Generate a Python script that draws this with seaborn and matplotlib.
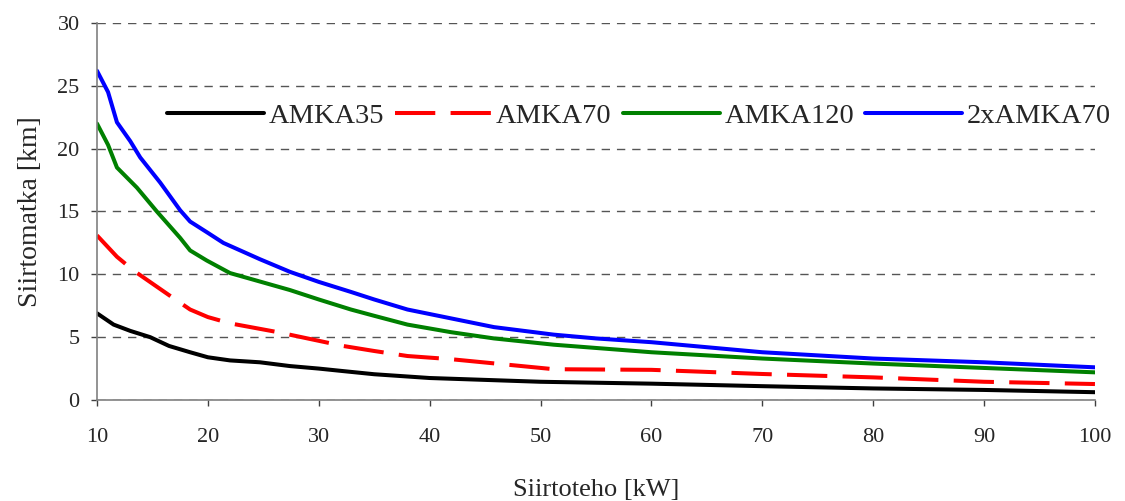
import pandas as pd
import matplotlib
matplotlib.use("Agg")
import matplotlib.pyplot as plt
import seaborn as sns

# Siirtoteho [kW] vs siirtomatka [km]
x_amka35 = [10, 11.5, 13, 14.8, 16.5, 18.4, 20, 22, 24.7, 27.4, 30, 32.2, 35, 40, 45, 50, 60, 70, 80, 90, 100]
y_amka35 = [6.9, 6.0, 5.5, 5.0, 4.3, 3.8, 3.4, 3.15, 3.0, 2.7, 2.5, 2.3, 2.05, 1.75, 1.6, 1.45, 1.3, 1.1, 0.92, 0.8, 0.62]

x_amka70 = [10, 11.8, 13.3, 16.9, 18.4, 20, 22, 26.3, 32.2, 35, 38, 41.9, 51.2, 60, 70, 80, 90, 100]
y_amka70 = [13.1, 11.4, 10.3, 8.1, 7.2, 6.6, 6.1, 5.4, 4.3, 3.9, 3.5, 3.25, 2.45, 2.4, 2.07, 1.8, 1.45, 1.27]

x_amka120 = [10, 11, 11.8, 13.6, 15.4, 17.5, 18.4, 19.9, 22, 27.4, 30, 32.9, 35, 38, 41.9, 45.8, 51.2, 60, 70, 80, 90, 100]
y_amka120 = [22.0, 20.3, 18.5, 16.9, 15.0, 12.9, 11.9, 11.1, 10.1, 8.75, 8.0, 7.2, 6.7, 6.0, 5.4, 4.9, 4.4, 3.8, 3.3, 2.9, 2.55, 2.2]

x_2xamka70 = [10, 11, 11.8, 13, 13.9, 15.7, 17.5, 18.4, 20, 21.4, 24.7, 27.4, 30, 32.9, 35, 38, 41.9, 45.8, 51.2, 55, 60, 65, 70, 80, 90, 100]
y_2xamka70 = [26.2, 24.5, 22.1, 20.6, 19.3, 17.3, 15.1, 14.2, 13.3, 12.5, 11.2, 10.2, 9.4, 8.6, 8.0, 7.2, 6.5, 5.8, 5.2, 4.9, 4.6, 4.2, 3.8, 3.3, 3.0, 2.6]

sns.set_style("white")
plt.rcParams["font.family"] = ["Liberation Serif", "DejaVu Serif"]

fig = plt.figure(figsize=(11.25, 5.01), dpi=100)
ax = fig.add_axes([0.0862, 0.2016, 0.8871, 0.7525])

series = [
    ("AMKA35", x_amka35, y_amka35, "black", None),
    ("AMKA70", x_amka70, y_amka70, "#ff0000", (10, 3.8)),
    ("AMKA120", x_amka120, y_amka120, "#008000", None),
    ("2xAMKA70", x_2xamka70, y_2xamka70, "#0000ff", None),
]
for name, xs, ys, col, dash in series:
    df = pd.DataFrame({"x": xs, "y": ys})
    sns.lineplot(data=df, x="x", y="y", ax=ax, color=col, linewidth=2.9, label=name)
    if dash is not None:
        ax.lines[-1].set_dashes(dash)

ax.set_xlim(10, 100)
ax.set_ylim(0, 30)
ax.set_xticks(range(10, 101, 10))
ax.set_yticks(range(0, 31, 5))
ax.yaxis.grid(True, linestyle=(0, (6, 5)), color="#555555", linewidth=1)
ax.xaxis.grid(False)
for s in ["top", "right"]:
    ax.spines[s].set_visible(False)
for s in ["left", "bottom"]:
    ax.spines[s].set_color("#808080")
    ax.spines[s].set_linewidth(1.2)
ax.tick_params(axis="both", labelsize=16, direction="out", length=4.5, width=1, color="#404040",
               bottom=True, left=True)
ax.tick_params(axis="x", pad=16)
ax.tick_params(axis="y", pad=8)
ax.set_xlabel("Siirtoteho [kW]", fontsize=19, labelpad=23)
ax.set_ylabel("Siirtomatka [km]", fontsize=20, labelpad=10)

ax.legend(loc="center", bbox_to_anchor=(0.543, 0.753), ncol=4, frameon=False,
          fontsize=20.5, handlelength=3.4, handletextpad=0.15, columnspacing=0.4)

fig.savefig("out.png", dpi=100)
